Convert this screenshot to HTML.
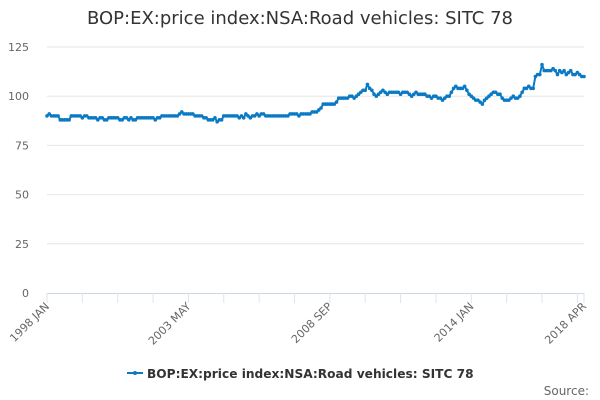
<!DOCTYPE html>
<html><head><meta charset="utf-8"><style>
body{margin:0;background:#fff;font-family:"DejaVu Sans","Liberation Sans",sans-serif}
svg{display:block}
text{font-family:"DejaVu Sans","Liberation Sans",sans-serif}
</style></head><body>
<svg id="chart" width="600" height="400">
<text x="300" y="24" text-anchor="middle" font-size="18" fill="#333">BOP:EX:price index:NSA:Road vehicles: SITC 78</text>
<g id="grid"></g><g id="xaxis"></g><g id="series"></g>
<g>
<line x1="127" y1="373" x2="143" y2="373" stroke="#0b7ac4" stroke-width="2"/>
<circle cx="135" cy="373" r="2" fill="#0b7ac4"/>
<text x="147" y="378" font-size="12.2" font-weight="bold" fill="#333">BOP:EX:price index:NSA:Road vehicles: SITC 78</text>
</g>
<text x="589" y="395" text-anchor="end" font-size="12" fill="#666">Source:</text>
</svg>
<script>
const yTicks=[0,25,50,75,100,125];
const xLabels=["1998 JAN","2003 MAY","2008 SEP","2014 JAN","2018 APR"];
const xLabelIdx=[0,64,128,192,243];
const v1998_2003=[90,91,90,90,90,90,88,88,88,88,88,90, 90,90,90,90,89,90,90,89,89,89,89,88, 89,89,88,88,89,89,89,89,89,88,88,89, 89,88,89,88,88,89,89,89,89,89,89,89, 89,88,89,89,90,90,90,90,90,90,90,90, 91,92,91,91,91,91,91,90,90,90,90,89];
const v2004_2009=[89,88,88,88,89,87,88,88,90,90,90,90, 90,90,90,89,90,89,91,90,89,90,90,91, 90,91,91,90,90,90,90,90,90,90,90,90, 90,90,91,91,91,91,90,91,91,91,91,91, 92,92,92,93,94,96,96,96,96,96,96,97, 99,99,99,99,99,100,100,99,100,101,102,103];
const v2010_2015=[103,106,104,103,101,100,101,102,103,102,101,102, 102,102,102,102,101,102,102,102,101,100,101,102, 101,101,101,101,100,100,99,100,100,99,99,98, 99,100,100,102,104,105,104,104,104,105,103,101, 100,99,98,98,97,96,98,99,100,101,102,102, 101,101,99,98,98,98,99,100,99,99,100,102];
const v2016_2018=[104,104,105,104,104,110,111,111,116,113,113,113, 113,114,113,111,113,112,113,111,112,113,111,111, 112,111,110,110];
const values=[...v1998_2003,...v2004_2009,...v2010_2015,...v2016_2018];
const NS="http://www.w3.org/2000/svg";
const X0=47,X1=584,Y0=293,Y1=47;
const xs=i=>X0+(X1-X0)*i/(values.length-1);
const ys=v=>Y0-(Y0-Y1)*v/125;
function mk(t,a,p){const e=document.createElementNS(NS,t);for(const k in a)e.setAttribute(k,a[k]);p.appendChild(e);return e;}
const grid=document.getElementById('grid');
yTicks.forEach(t=>{
 if(t>0){const l=mk('line',{x1:X0,x2:X1,y1:ys(t),y2:ys(t),stroke:'#e6e6e6'},grid);
 
 }
 const tx=mk('text',{x:29,y:ys(t)+4,'text-anchor':'end','font-size':11,fill:'#666'},grid);
 tx.textContent=t;
 
 
});
const xa=document.getElementById('xaxis');
const ax=mk('line',{x1:X0,x2:X1,y1:Y0+0.5,y2:Y0+0.5,stroke:'#ccd6eb'},xa);


for(let i=0;i<values.length;i+=16){
 const tk=mk('line',{x1:xs(i),x2:xs(i),y1:Y0,y2:Y0+10,stroke:'#dde4f0'},xa);
 
 
}
const lt=mk('line',{x1:X1,x2:X1,y1:Y0,y2:Y0+10,stroke:'#dde4f0'},xa);


xLabels.forEach((s,k)=>{
 const x=xs(xLabelIdx[k]);
 const t=mk('text',{x:x+3,y:Y0+14,'text-anchor':'end','font-size':11,fill:'#666',transform:`rotate(-45 ${x+3} ${Y0+14})`},xa);
 t.textContent=s;
 
 
});
const sg=document.getElementById('series');
const p=mk('path',{d:values.map((v,i)=>(i?'L':'M')+xs(i).toFixed(2)+' '+ys(v).toFixed(2)).join(''),fill:'none',stroke:'#0b7ac4','stroke-width':2,'stroke-linejoin':'round'},sg);


values.forEach((v,i)=>{
 const c=mk('circle',{cx:xs(i),cy:ys(v),r:1.8,fill:'#0b7ac4'},sg);
 
 
});
</script>
</body></html>
